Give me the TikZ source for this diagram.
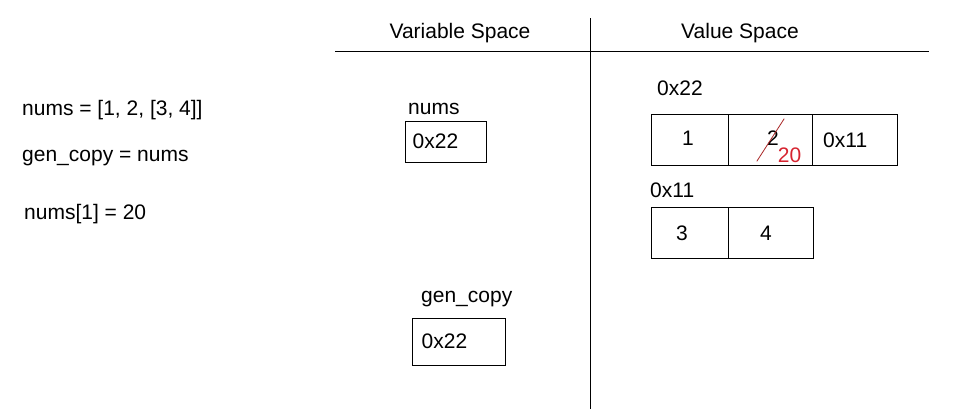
\documentclass[tikz,border=0pt]{standalone}
\usepackage{fontspec}
\setmainfont{Liberation Sans}
\definecolor{editred}{RGB}{214,36,48}
\definecolor{strikered}{RGB}{170,40,40}

\begin{document}
\begin{tikzpicture}[
			x=1pt, y=-1pt,
			line cap=rect,
			font=\fontsize{21}{25}\selectfont,
			txt/.style={anchor=west, inner sep=0pt},
			varbox/.style={draw, line width=1pt, inner sep=0pt},
			cell/.style={draw, line width=1pt, inner sep=0pt, minimum height=51},
		]
			\useasboundingbox (0, 0) rectangle (954, 408);

			% dividing lines
			\draw[line width=1pt] (335, 51) -- (928, 51);
			\draw[line width=1pt] (590, 18) -- (590, 408);
			\node (varhead) at (460, 33) {Variable Space};
			\node (valhead) at (740, 33) {Value Space};

			% code
			\node[txt] (line1) at (22, 110) {nums = [1, 2, [3, 4]]};
			\node[txt] (line2) at (22, 158) {gen\_copy = nums};
			\node[txt] (line3) at (24, 214) {nums[1] = 20};

			% variables
			\node[txt] (numslbl) at (408, 109) {nums};
			\node[varbox, minimum width=81, minimum height=41] (numsbox) at (445.5, 141.5) {};
			\node[txt] (numsval) at ([xshift=8]numsbox.west) {0x22};

			\node[txt] (copylbl) at (421, 299) {gen\_copy};
			\node[varbox, minimum width=93, minimum height=47] (copybox) at (458.5, 341.5) {};
			\node[txt] (copyval) at ([xshift=10]copybox.west) {0x22};

			% outer list
			\node[txt] (outeraddr) at (657, 88) {0x22};
			\node[cell, minimum width=77] (outerA) at (689.5, 139.5) {};
			\node[cell, minimum width=84] (outerB) at (770, 139.5) {};
			\node[cell, minimum width=85] (outerC) at (854.5, 139.5) {};
			\node (valA) at (688, 138) {1};
			\node (valB) at (773, 138) {2};
			\node[txt] (valC) at (823, 140) {0x11};
			\coordinate (strikeS) at (757, 161);
			\coordinate (strikeE) at (784, 119);
			\draw[strikered, line width=0.8pt] (strikeS) -- (strikeE);
			\node[editred] (newval) at (789.5, 155) {20};

			% inner list
			\node[txt] (inneraddr) at (650, 190) {0x11};
			\node[cell, minimum width=77] (innerA) at (689.5, 233) {};
			\node[cell, minimum width=85] (innerB) at (770.5, 233) {};
			\node (valD) at (682, 233) {3};
			\node (valE) at (766, 233) {4};
		\end{tikzpicture}
\end{document}
